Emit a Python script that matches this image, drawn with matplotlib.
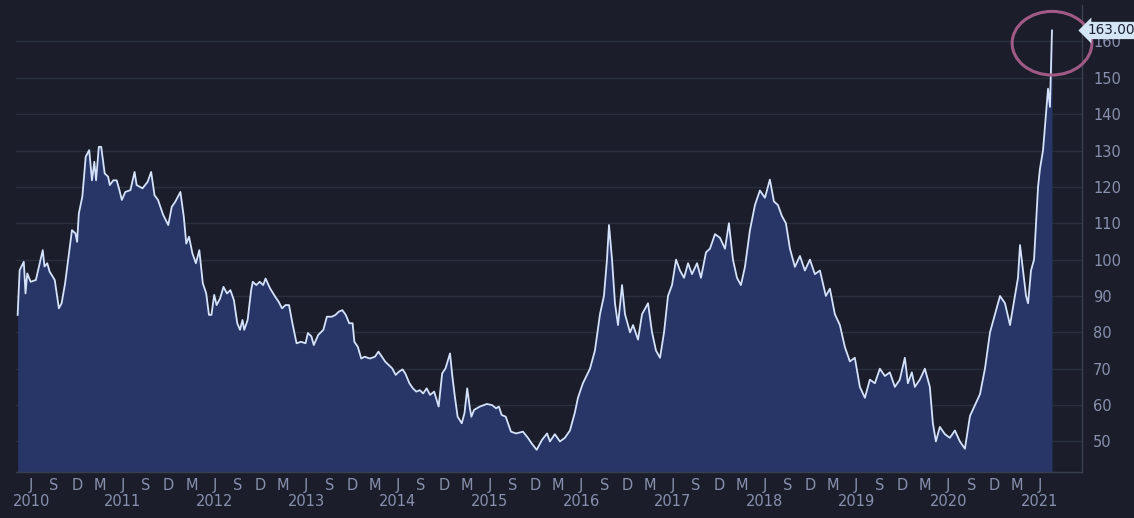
import numpy as np
import matplotlib
matplotlib.use("Agg")
import matplotlib.pyplot as plt
import matplotlib.dates as mdates
from matplotlib.patches import Ellipse
from datetime import datetime

# ---- data (decimal years, values) ----
t_years = [
    2010.267, 2010.289, 2010.334, 2010.353, 2010.372, 2010.409, 2010.466, 2010.503, 2010.541, 2010.560, 2010.590,
    2010.616, 2010.672, 2010.717, 2010.747, 2010.785, 2010.815, 2010.860, 2010.898, 2010.916, 2010.935, 2010.973,
    2011.010, 2011.048, 2011.078, 2011.104, 2011.123, 2011.153, 2011.179, 2011.217, 2011.254, 2011.273, 2011.311,
    2011.348, 2011.378, 2011.404, 2011.442, 2011.498, 2011.543, 2011.566, 2011.630, 2011.686, 2011.724, 2011.761,
    2011.799, 2011.855, 2011.911, 2011.949, 2011.987, 2012.043, 2012.080, 2012.107, 2012.137, 2012.174, 2012.212,
    2012.249, 2012.287, 2012.324, 2012.354, 2012.381, 2012.411, 2012.437, 2012.475, 2012.512, 2012.550, 2012.587,
    2012.625, 2012.662, 2012.692, 2012.719, 2012.738, 2012.775, 2012.813, 2012.831, 2012.869, 2012.906, 2012.944,
    2012.970, 2013.019, 2013.075, 2013.113, 2013.150, 2013.188, 2013.226, 2013.263, 2013.308, 2013.357, 2013.406,
    2013.432, 2013.470, 2013.496, 2013.545, 2013.601, 2013.639, 2013.695, 2013.733, 2013.770, 2013.808, 2013.845,
    2013.883, 2013.920, 2013.939, 2013.977, 2014.014, 2014.052, 2014.108, 2014.164, 2014.202, 2014.240, 2014.277,
    2014.315, 2014.352, 2014.390, 2014.427, 2014.465, 2014.495, 2014.540, 2014.578, 2014.615, 2014.653, 2014.690,
    2014.728, 2014.765, 2014.810, 2014.859, 2014.897, 2014.934, 2014.983, 2015.009, 2015.036, 2015.066, 2015.111,
    2015.141, 2015.171, 2015.197, 2015.216, 2015.246, 2015.310, 2015.385, 2015.441, 2015.486, 2015.516, 2015.546,
    2015.591, 2015.648, 2015.704, 2015.779, 2015.836, 2015.873, 2015.929, 2015.986, 2016.042,
    2016.073, 2016.127, 2016.182, 2016.236, 2016.291, 2016.345, 2016.378, 2016.432, 2016.509, 2016.563, 2016.618,
    2016.661, 2016.694, 2016.716, 2016.749, 2016.781, 2016.814, 2016.858, 2016.890, 2016.945, 2016.978, 2017.032,
    2017.076, 2017.141, 2017.185, 2017.228, 2017.272, 2017.316, 2017.359, 2017.403, 2017.447, 2017.490, 2017.534,
    2017.578, 2017.621, 2017.676, 2017.719, 2017.774, 2017.817, 2017.872, 2017.926, 2017.981, 2018.024, 2018.068,
    2018.112, 2018.155, 2018.199, 2018.253, 2018.308, 2018.362, 2018.417, 2018.471, 2018.515, 2018.559, 2018.602,
    2018.646, 2018.690, 2018.744, 2018.799, 2018.853, 2018.908, 2018.962, 2019.017, 2019.082, 2019.126, 2019.180,
    2019.235, 2019.289, 2019.344, 2019.398, 2019.453, 2019.508, 2019.562, 2019.617, 2019.671, 2019.726, 2019.780,
    2019.835, 2019.889, 2019.944, 2019.977, 2020.020, 2020.053, 2020.107, 2020.162, 2020.216, 2020.249, 2020.282,
    2020.325, 2020.380, 2020.434, 2020.489, 2020.543, 2020.598, 2020.653, 2020.707, 2020.762, 2020.816, 2020.871,
    2020.925, 2020.980, 2021.034, 2021.089, 2021.143, 2021.176, 2021.198, 2021.231, 2021.264, 2021.286, 2021.318,
    2021.351, 2021.373, 2021.395, 2021.416, 2021.449, 2021.482, 2021.504, 2021.525, 2021.547,
]
values = [
    84.8, 97.1, 99.4, 90.7, 96.2, 93.9, 94.4, 98.5, 102.6, 98.1, 99.0,
    96.7, 94.4, 86.6, 88.0, 93.5, 99.4, 108.1, 107.2, 104.9, 112.7, 117.3,
    128.3, 130.1, 121.8, 126.9, 121.8, 131.0, 131.0, 123.7, 122.8, 120.5, 121.8,
    121.8, 119.1, 116.4, 118.6, 119.1, 124.1, 120.5, 119.6, 121.4, 124.1, 117.7,
    116.4, 112.3, 109.5, 114.5, 115.9, 118.6, 111.8, 104.4, 106.3, 101.7, 99.0,
    102.6, 93.5, 90.7, 84.8, 84.8, 90.3, 87.5, 89.3, 92.5, 90.7, 91.6,
    88.9, 82.5, 80.7, 83.4, 80.7, 83.4, 91.6, 93.9, 93.0, 93.9, 93.0,
    94.8, 92.1, 89.8, 88.4, 86.6, 87.5, 87.5, 82.5, 77.0, 77.4, 77.0,
    79.8, 78.9, 76.5, 79.3, 80.7, 84.3, 84.3, 84.8, 85.7, 86.1, 84.8,
    82.5, 82.5, 77.4, 76.0, 72.8, 73.3, 72.8, 73.3, 74.7, 73.3, 71.9,
    71.0, 70.1, 68.3, 69.2, 69.8, 68.7, 66.0, 64.6, 63.7, 64.1, 63.2,
    64.6, 62.8, 63.7, 59.6, 68.7, 70.1, 74.2, 67.8, 62.3, 56.8, 55.0,
    57.8, 64.6, 59.6, 56.8, 58.7, 59.6, 60.3, 60.0, 59.1, 59.6, 57.3,
    56.8, 52.7, 52.2, 52.7, 50.9, 49.5, 47.7, 50.4, 52.2,
    50.0, 52.0, 50.0, 51.0, 53.0, 58.0, 62.0, 66.0, 70.0, 75.0, 85.0,
    90.0, 100.0, 109.5, 100.0, 88.0, 82.0, 93.0, 85.0, 80.0, 82.0, 78.0,
    85.0, 88.0, 80.0, 75.0, 73.0, 80.0, 90.0, 93.0, 100.0, 97.0, 95.0,
    99.0, 96.0, 99.0, 95.0, 102.0, 103.0, 107.0, 106.0, 103.0, 110.0, 100.0,
    95.0, 93.0, 98.0, 108.0, 115.0, 119.0, 117.0, 122.0, 116.0, 115.0, 112.0,
    110.0, 103.0, 98.0, 101.0, 97.0, 100.0, 96.0, 97.0, 90.0, 92.0, 85.0,
    82.0, 76.0, 72.0, 73.0, 65.0, 62.0, 67.0, 66.0, 70.0, 68.0, 69.0,
    65.0, 67.0, 73.0, 66.0, 69.0, 65.0, 67.0, 70.0, 65.0, 55.0, 50.0,
    54.0, 52.0, 51.0, 53.0, 50.0, 48.0, 57.0, 60.0, 63.0, 70.0, 80.0,
    85.0, 90.0, 88.0, 82.0, 90.0, 95.0, 104.0, 97.0, 90.0, 88.0, 97.0,
    100.0, 110.0, 120.0, 125.0, 130.0, 140.0, 147.0, 142.0, 163.0,
]
n = min(len(t_years), len(values))
t_years = t_years[:n]
values = values[:n]

y_ticks = [50, 60, 70, 80, 90, 100, 110, 120, 130, 140, 150, 160]
month_letters = {3: "M", 6: "J", 9: "S", 12: "D"}
last_label = "163.00"

def dec2num(y):
    yi = int(np.floor(y))
    d0 = datetime(yi, 1, 1)
    d1 = datetime(yi + 1, 1, 1)
    return mdates.date2num(d0 + (d1 - d0) * (y - yi))

x = np.array([dec2num(v) for v in t_years])
yv = np.array(values)
x_last = x[-1]

BG = "#1b1e2a"
FILL = "#283667"
LINE = "#d4e2fb"
GRID = "#2a2e3d"
TXT = "#8890ad"

fig = plt.figure(figsize=(11.34, 5.18), dpi=100, facecolor=BG)
ax = fig.add_axes([0.0141, 0.0888, 0.9400, 0.9015], facecolor=BG)

ymin, ymax = 41.6, 170
ax.fill_between(x, yv, ymin, color=FILL, lw=0, zorder=2)
ax.plot(x, yv, color=LINE, lw=1.3, zorder=3)

ax.set_ylim(ymin, ymax)
ax.set_xlim(dec2num(2010.249), dec2num(2021.874))

ax.yaxis.tick_right()
ax.set_yticks(y_ticks)
ax.set_yticklabels([str(v) for v in y_ticks])
ax.grid(axis="y", color=GRID, lw=1, zorder=1)
ax.grid(axis="x", visible=False)
ax.tick_params(axis="y", length=0, pad=8, labelsize=10.5, labelcolor=TXT)

ax.xaxis.set_major_locator(mdates.MonthLocator(bymonth=[3, 6, 9, 12]))
def fmt(val, pos):
    if val > x_last:
        return ""
    d = mdates.num2date(val)
    s = month_letters.get(d.month, "")
    if d.month == 6:
        s += "\n" + str(d.year)
    return s
ax.xaxis.set_major_formatter(plt.FuncFormatter(fmt))
ax.tick_params(axis="x", length=0, pad=4, labelsize=10.5, labelcolor=TXT)
for lab in ax.get_xticklabels():
    lab.set_linespacing(1.1)

for s in ["top", "left"]:
    ax.spines[s].set_visible(False)
for s in ["right", "bottom"]:
    ax.spines[s].set_color("#3a3f50")
    ax.spines[s].set_linewidth(1)

# last price label
ax.annotate(last_label, xy=(1.0, (values[-1] - ymin) / (ymax - ymin)), xycoords="axes fraction",
            xytext=(4, 0), textcoords="offset points", va="center", ha="left",
            fontsize=9.8, color="#1b2233",
            bbox=dict(boxstyle="larrow,pad=0.12", fc="#d4e6f6", ec="none"), zorder=6,
            annotation_clip=False)

# hand-drawn circle around the peak
ell = Ellipse((x_last, 159.5), width=dec2num(2021.87) - dec2num(2021.0), height=17.5,
              angle=0, fill=False, ec="#a05a85", lw=2.2, zorder=5, clip_on=False)
ax.add_patch(ell)

fig.savefig("out.png", dpi=100, facecolor=BG)
